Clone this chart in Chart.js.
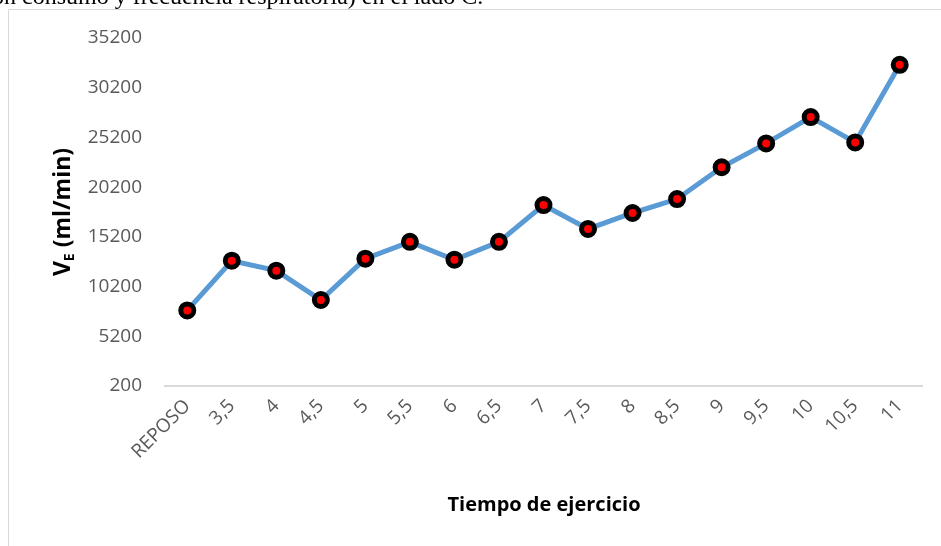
<!DOCTYPE html>
<html>
<head>
<meta charset="utf-8">
<script src="https://cdn.jsdelivr.net/npm/chart.js@4"></script>
<style>
  html, body { margin: 0; padding: 0; background: #ffffff; }
  #wrap { width: 941px; height: 546px; position: relative; }
</style>
</head>
<body>
<div id="wrap"><canvas id="c" width="941" height="546"></canvas></div>
<script>
// Exercise time steps (minutes) and ventilation VE (ml/min)
const categories = ['REPOSO', '3,5', '4', '4,5', '5', '5,5', '6', '6,5', '7', '7,5', '8', '8,5', '9', '9,5', '10', '10,5', '11'];
const veValues = [7800, 12800, 11800, 8850, 13000, 14700, 12900, 14700, 18400, 16000, 17600, 19000, 22200, 24600, 27250, 24700, 32500];
const yTickMin = 200;
const yTickMax = 35200;
const yTickStep = 5000;

const xTitle = 'Tiempo de ejercicio';
const yTitleMain = 'V';
const yTitleSub = 'E';
const yTitleRest = ' (ml/min)';
const captionText = 'ón consumo y frecuencia respiratoria) en el lado C.';

const tickFont = '"Open Sans", "Noto Sans", sans-serif';

// Frame, caption line above it, and axis titles (with subscript)
const decorations = {
  id: 'decorations',
  beforeDraw(chart) {
    const ctx = chart.ctx;
    ctx.save();
    ctx.fillStyle = '#ffffff';
    ctx.fillRect(0, 0, chart.width, chart.height);
    ctx.fillStyle = '#000000';
    ctx.font = '24px "Liberation Serif", serif';
    ctx.textBaseline = 'alphabetic';
    ctx.textAlign = 'left';
    ctx.fillText(captionText, -8, 4);
    ctx.fillStyle = '#ffffff';
    ctx.fillRect(0, 9, chart.width, chart.height);
    ctx.strokeStyle = '#d9d9d9';
    ctx.lineWidth = 1;
    ctx.beginPath();
    ctx.moveTo(8.5, chart.height + 2);
    ctx.lineTo(8.5, 9.5);
    ctx.lineTo(chart.width + 2, 9.5);
    ctx.stroke();
    ctx.restore();
  },
  afterDraw(chart) {
    const ctx = chart.ctx;
    ctx.save();
    ctx.fillStyle = '#000000';
    // x axis title
    ctx.font = 'bold 20px ' + tickFont;
    ctx.textAlign = 'center';
    ctx.textBaseline = 'middle';
    ctx.fillText(xTitle, 544, 505);
    // y axis title, rotated, with subscript
    const mainFont = 'bold 23px ' + tickFont;
    const subFont = 'bold 14px ' + tickFont;
    ctx.font = mainFont;
    const wMain = ctx.measureText(yTitleMain).width;
    const wRest = ctx.measureText(yTitleRest).width;
    ctx.font = subFont;
    const wSub = ctx.measureText(yTitleSub).width;
    const total = wMain + wSub + wRest;
    ctx.translate(62, 212);
    ctx.rotate(-Math.PI / 2);
    ctx.textAlign = 'left';
    ctx.textBaseline = 'alphabetic';
    let x = -total / 2;
    const base = 8;
    ctx.font = mainFont;
    ctx.fillText(yTitleMain, x, base);
    x += wMain;
    ctx.font = subFont;
    ctx.fillText(yTitleSub, x, base + 4);
    x += wSub;
    ctx.font = mainFont;
    ctx.fillText(yTitleRest, x, base);
    ctx.restore();
  }
};

new Chart(document.getElementById('c'), {
  type: 'line',
  data: {
    labels: categories,
    datasets: [{
      data: veValues,
      borderColor: '#5b9bd5',
      borderWidth: 5,
      tension: 0,
      pointRadius: 6.5,
      pointHoverRadius: 6.5,
      pointBackgroundColor: '#ff0000',
      pointBorderColor: '#000000',
      pointBorderWidth: 5,
      fill: false
    }]
  },
  options: {
    responsive: false,
    animation: false,
    devicePixelRatio: 1,
    layout: { padding: { top: 38, right: 19, bottom: 0, left: 0 } },
    plugins: {
      legend: { display: false },
      tooltip: { enabled: false },
      title: { display: false }
    },
    scales: {
      x: {
        type: 'category',
        offset: true,
        grid: { display: false, drawTicks: false },
        border: { display: true, color: '#d9d9d9', width: 2 },
        ticks: {
          autoSkip: false,
          maxRotation: 45,
          minRotation: 45,
          padding: 9,
          color: '#595959',
          font: { family: tickFont, size: 19 }
        },
        afterFit(s) { s.height = 546 - 386; }
      },
      y: {
        min: yTickMin,
        max: yTickMax,
        grid: { display: false, drawTicks: false },
        border: { display: false },
        ticks: {
          stepSize: yTickStep,
          padding: 23,
          color: '#595959',
          font: { family: tickFont, size: 19 },
          callback: v => String(v)
        },
        afterFit(s) { s.width = 165; }
      }
    }
  },
  plugins: [decorations]
});
</script>
</body>
</html>
